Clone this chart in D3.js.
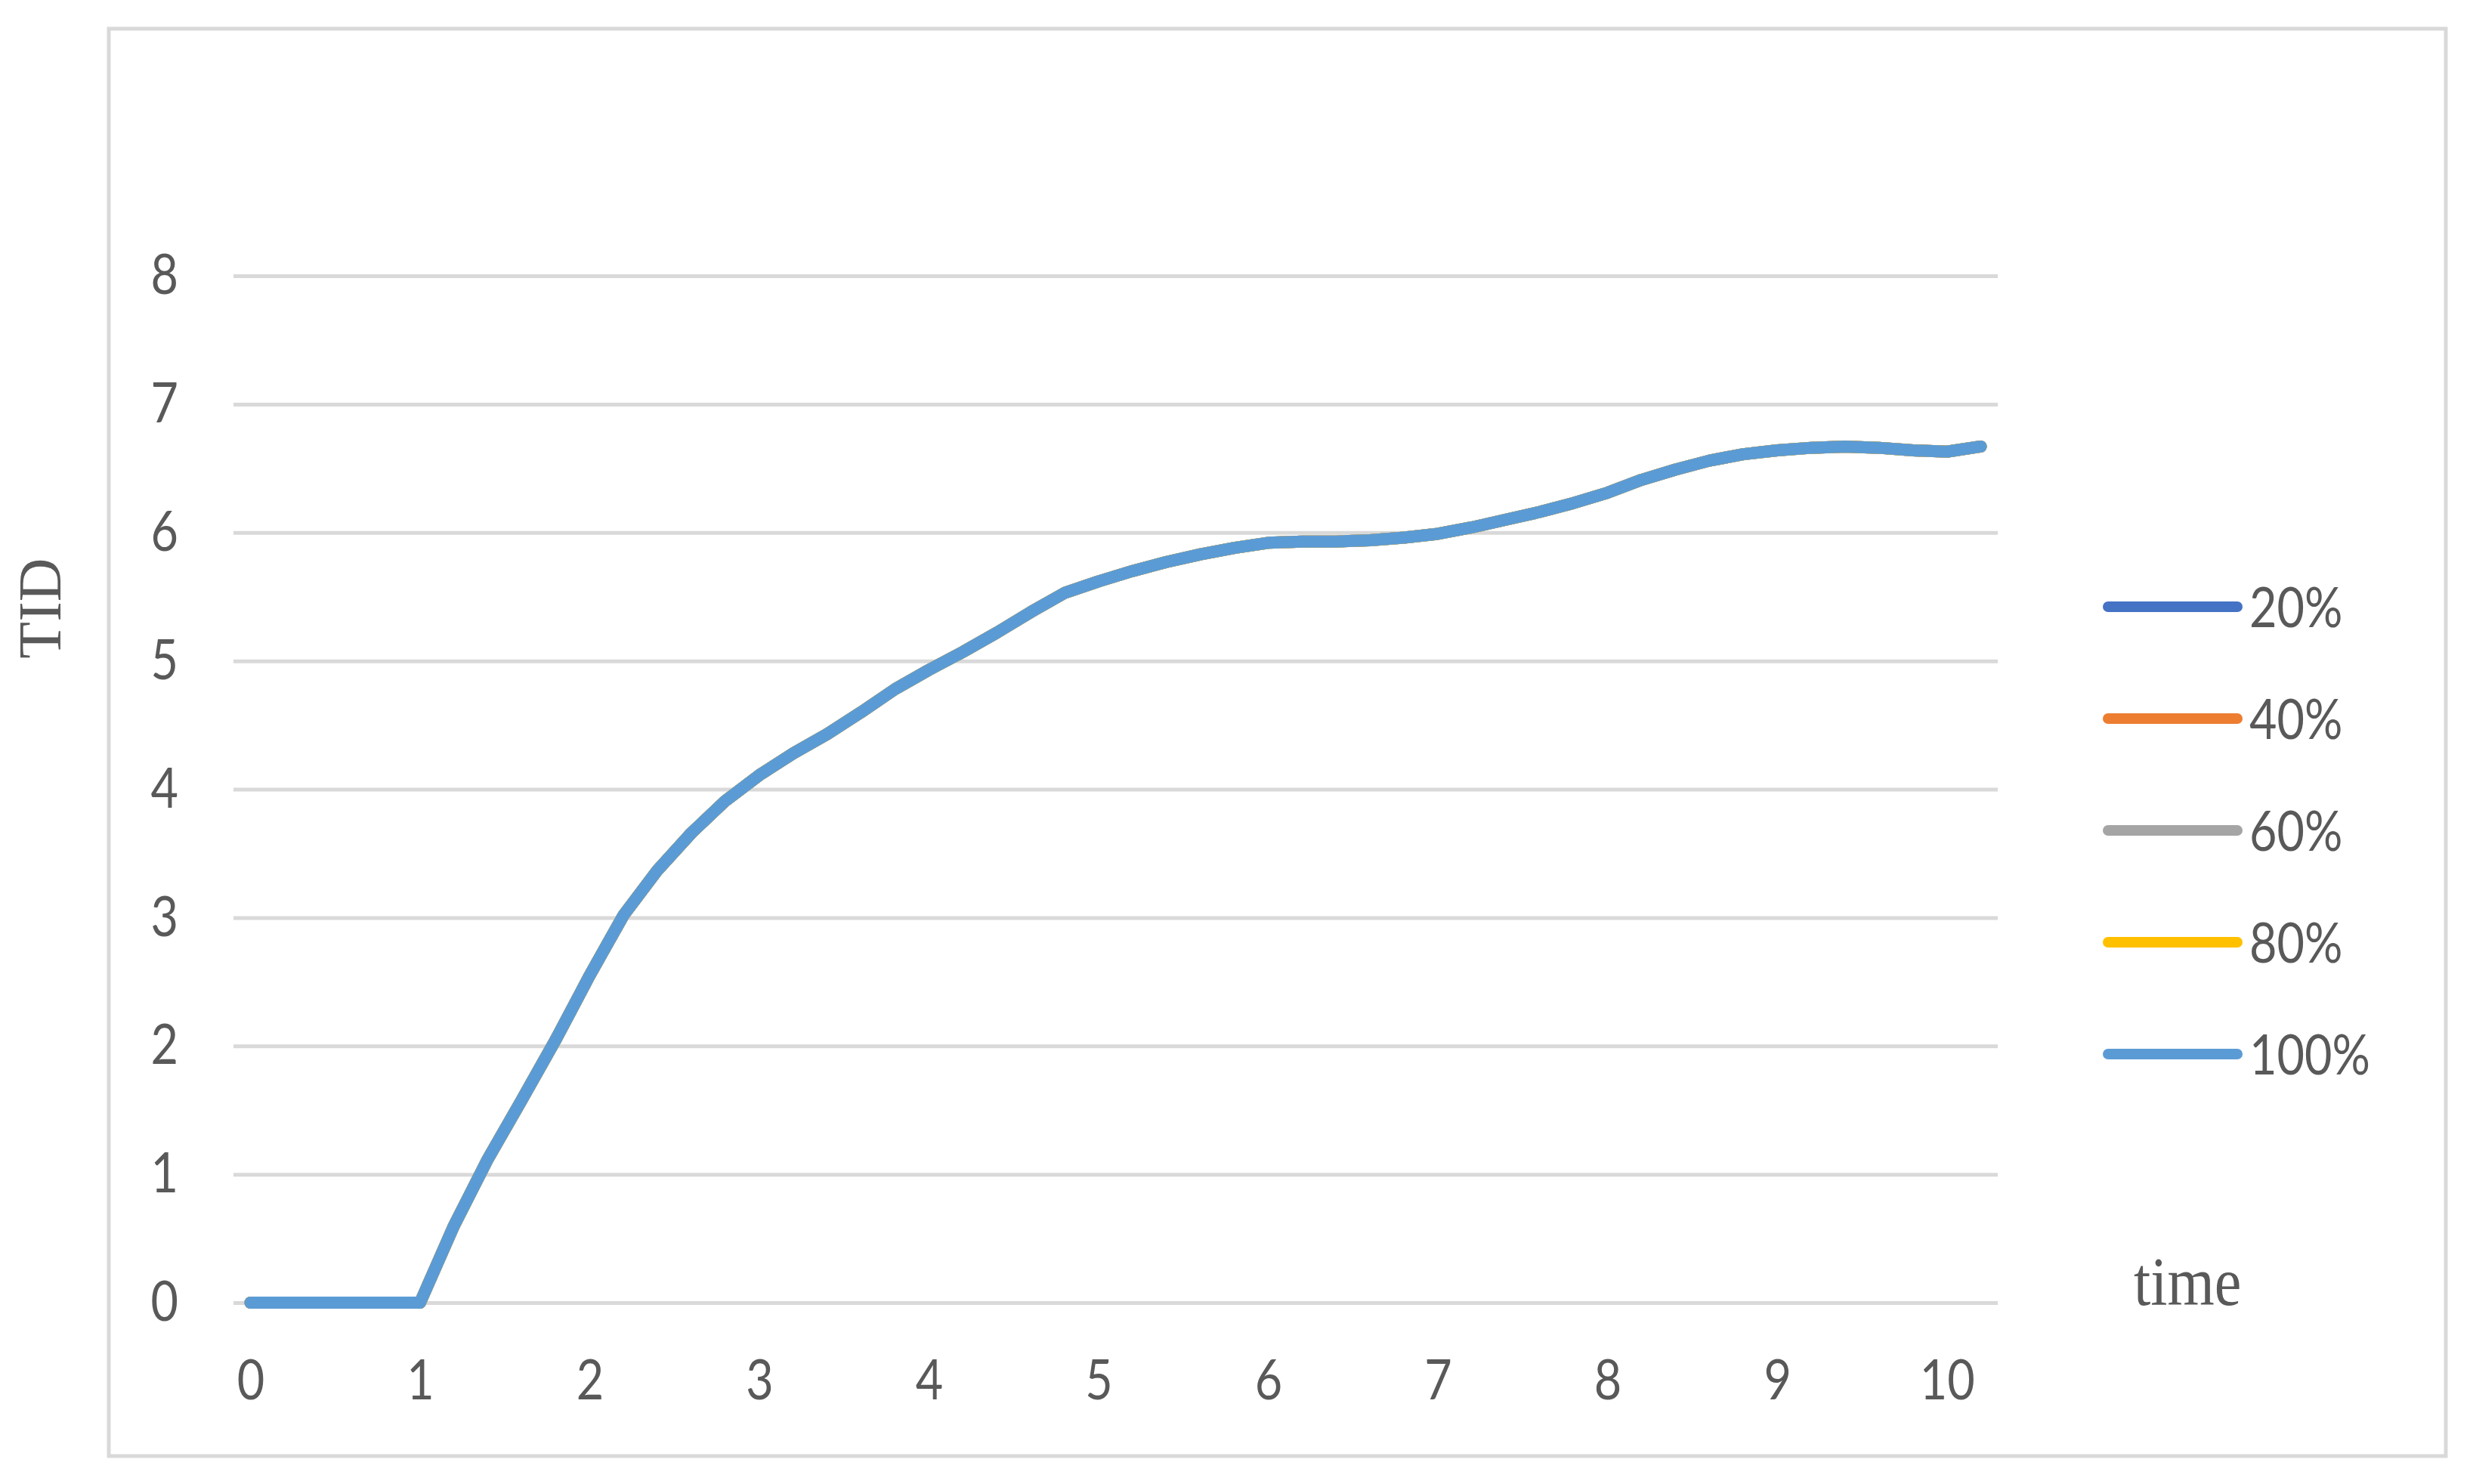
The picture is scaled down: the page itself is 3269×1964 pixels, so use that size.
<!DOCTYPE html>
<html>
<head>
<meta charset="utf-8">
<script src="https://cdn.jsdelivr.net/npm/d3@7"></script>
<style>
    body { margin: 0; background: #fff; }
    svg { display: block; }
</style>
</head>
<body>
<svg id="chart"></svg>
<script>
// data
const times = [0, 0.2, 0.4, 0.6, 0.8, 1.0, 1.2, 1.4, 1.6, 1.8,
    2.0, 2.2, 2.4, 2.6, 2.8, 3.0, 3.2, 3.4, 3.6, 3.8,
    4.0, 4.2, 4.4, 4.6, 4.8, 5.0, 5.2, 5.4, 5.6, 5.8,
    6.0, 6.2, 6.4, 6.6, 6.8, 7.0, 7.2, 7.4, 7.6, 7.8,
    8.0, 8.2, 8.4, 8.6, 8.8, 9.0, 9.2, 9.4, 9.6, 9.8,
    10.0, 10.2];

// all five loads give the same curve in the figure
const tidValues = [0, 0, 0, 0, 0, 0, 0.60, 1.12, 1.58, 2.05,
    2.55, 3.02, 3.37, 3.66, 3.91, 4.11, 4.28, 4.43, 4.60, 4.78,
    4.93, 5.07, 5.22, 5.38, 5.53, 5.62, 5.70, 5.77, 5.83, 5.88,
    5.92, 5.93, 5.93, 5.94, 5.96, 5.99, 6.04, 6.10, 6.16, 6.23,
    6.31, 6.41, 6.49, 6.56, 6.61, 6.64, 6.66, 6.67, 6.66, 6.64,
    6.63, 6.67];

const seriesNames = ['20%', '40%', '60%', '80%', '100%'];
const seriesColors = ['#4472c4', '#ed7d31', '#a5a5a5', '#ffc000', '#5b9bd5'];
const seriesValues = [tidValues, tidValues, tidValues, tidValues, tidValues];

const xTicks = [0, 1, 2, 3, 4, 5, 6, 7, 8, 9, 10];
const yTicks = [0, 1, 2, 3, 4, 5, 6, 7, 8];


const width = 3269;
const height = 1964;
const plot = { left: 309, right: 2644, top: 365, bottom: 1724 };
const textColor = '#595959';
const gridColor = '#d9d9d9';
const sansFont = 'Lato, "Open Sans", sans-serif';
const serifFont = '"Liberation Serif", "DejaVu Serif", serif';
const squeeze = 0.85;

const svg = d3.select('#chart')
    .attr('width', width)
    .attr('height', height);

svg.append('rect')
    .attr('width', width)
    .attr('height', height)
    .attr('fill', '#fff');

// outer chart border
svg.append('rect')
    .attr('x', 144)
    .attr('y', 38)
    .attr('width', 3237 - 144)
    .attr('height', 1927 - 38)
    .attr('fill', 'none')
    .attr('stroke', gridColor)
    .attr('stroke-width', 5);

let xScale = d3.scaleLinear()
    .domain([-0.1, 10.3])
    .range([plot.left, plot.right]);

let yScale = d3.scaleLinear()
    .domain([0, 8])
    .range([plot.bottom, plot.top]);

// y axis + gridlines
let yPad = plot.left - 236;
let gy = svg.append('g')
    .attr('transform', `translate(${plot.left}, 0)`)
    .call(d3.axisLeft(yScale)
        .tickValues(yTicks)
        .tickSize(-(plot.right - plot.left))
        .tickPadding(0)
        .tickFormat(d3.format('d')));

gy.select('.domain').remove();
gy.selectAll('.tick line')
    .attr('stroke', gridColor)
    .attr('stroke-width', 5);
gy.selectAll('.tick text')
    .attr('x', -yPad / squeeze)
    .attr('transform', `scale(${squeeze},1)`)
    .attr('fill', textColor)
    .style('font-family', sansFont)
    .style('font-size', '74px');

// x axis labels
let gx = svg.append('g')
    .attr('transform', `translate(0, ${plot.bottom})`)
    .call(d3.axisBottom(xScale)
        .tickValues(xTicks)
        .tickSize(0)
        .tickPadding(75)
        .tickFormat(d3.format('d')));

gx.select('.domain').remove();
gx.selectAll('.tick text')
    .attr('transform', `scale(${squeeze},1)`)
    .attr('fill', textColor)
    .style('font-family', sansFont)
    .style('font-size', '74px');

// lines
let line = d3.line()
    .x((d, i) => xScale(times[i]))
    .y(d => yScale(d));

svg.append('g')
    .attr('id', 'lines')
    .selectAll('path')
    .data(seriesValues)
    .enter().append('path')
    .attr('d', d => line(d))
    .attr('fill', 'none')
    .attr('stroke', (d, i) => seriesColors[i])
    .attr('stroke-width', 16)
    .attr('stroke-linecap', 'round')
    .attr('stroke-linejoin', 'round');

// legend
let legendY = d3.scalePoint()
    .domain(seriesNames)
    .range([803, 1395]);

let legend = svg.append('g')
    .attr('id', 'legend')
    .selectAll('g')
    .data(seriesNames)
    .enter().append('g')
    .attr('transform', d => `translate(2790, ${legendY(d)})`);

legend.append('line')
    .attr('x1', 0)
    .attr('x2', 171)
    .attr('stroke', (d, i) => seriesColors[i])
    .attr('stroke-width', 14)
    .attr('stroke-linecap', 'round');

legend.append('text')
    .attr('x', 187 / squeeze)
    .attr('dy', '0.36em')
    .attr('transform', `scale(${squeeze},1)`)
    .attr('fill', textColor)
    .style('font-family', sansFont)
    .style('font-size', '74px')
    .text(d => d);

// axis titles
svg.append('text')
    .attr('transform', 'translate(80, 805) rotate(-90)')
    .attr('text-anchor', 'middle')
    .attr('fill', textColor)
    .style('font-family', serifFont)
    .style('font-size', '80px')
    .text('TID');

svg.append('text')
    .attr('transform', `translate(2824, 1727) scale(0.87,1)`)
    .attr('fill', textColor)
    .style('font-family', serifFont)
    .style('font-size', '92px')
    .text('time');
</script>
</body>
</html>
